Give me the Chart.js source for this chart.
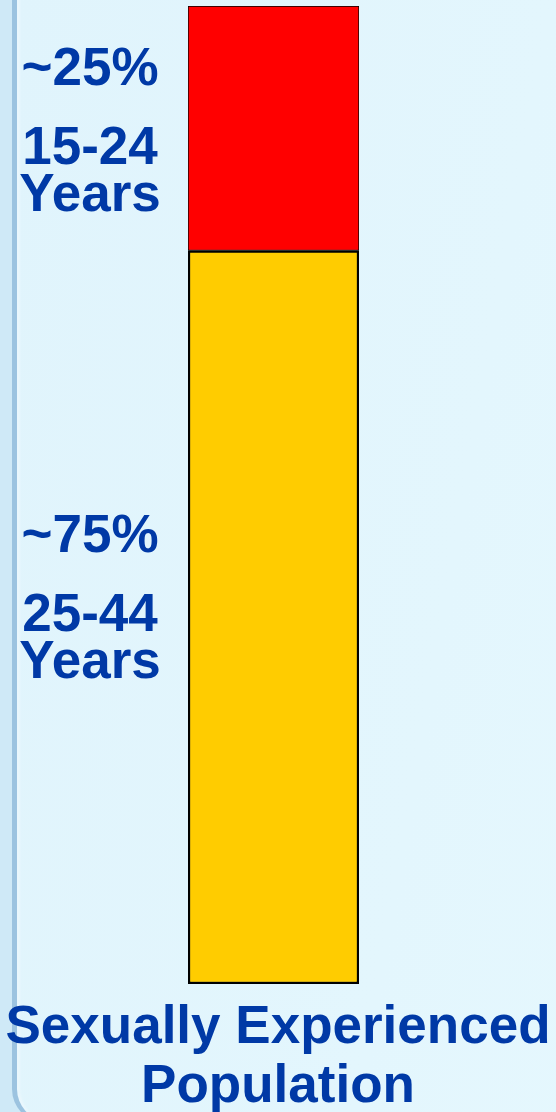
<!DOCTYPE html>
<html>
<head>
<meta charset="utf-8">
<script src="https://cdn.jsdelivr.net/npm/chart.js@4.4.1/dist/chart.umd.min.js"></script>
<style>
  html, body { margin: 0; padding: 0; }
  body {
    width: 556px; height: 1112px; overflow: hidden; position: relative;
    background: #cfe9f7;
  }
  #panel {
    position: absolute; left: 12px; top: -40px; width: 700px; height: 1160px;
    border-left: 5px solid #9cc3e0; border-bottom: 3px solid #b5d5ea;
    border-radius: 0 0 0 34px;
    background: linear-gradient(100deg, #e0f4fc 0%, #e3f6fd 60%, #e6f8fe 100%);
    box-shadow: inset 3px 0 2px #eaf7fd;
  }
  #chart { position: absolute; left: 0; top: 0; }
</style>
</head>
<body>
<div id="panel"></div>
<canvas id="chart" width="556" height="1112"></canvas>
<script>
// data, bottom segment first
const categories = ["Sexually Experienced Population"];
const groupNames = ["25-44 Years", "15-24 Years"];
const shares = [75, 25];
const shareLabels = ["~75%", "~25%"];

const TEXT_BLUE = "#0039a6";
const segColors = ["#ffcc00", "#ff0000"];
const segBorders = [2.5, 1];
const labelShift = [-65, -43]; // pct baseline relative to segment centre

const ctx = document.getElementById("chart").getContext("2d");

const sideLabels = {
  id: "sideLabels",
  afterDatasetsDraw(chart) {
    const c = chart.ctx;
    c.save();
    c.fillStyle = TEXT_BLUE;
    c.font = "bold 53px 'Liberation Sans', Arial, sans-serif";
    c.textAlign = "center";
    c.textBaseline = "alphabetic";
    chart.data.datasets.forEach((ds, i) => {
      const bar = chart.getDatasetMeta(i).data[0];
      const mid = (bar.y + bar.base) / 2;
      const y0 = mid + labelShift[i];
      const parts = groupNames[i].split(" ");
      c.fillText(shareLabels[i], 90, y0);
      c.fillText(parts[0], 90, y0 + 79);
      c.fillText(parts[1], 90, y0 + 126);
    });
    // category title under the bar
    const bottom = chart.chartArea.bottom;
    const words = categories[0].split(" ");
    c.fillText(words.slice(0, 2).join(" "), 278, bottom + 59);
    c.fillText(words.slice(2).join(" "), 278, bottom + 118);
    c.restore();
  }
};

new Chart(ctx, {
  type: "bar",
  data: {
    labels: categories,
    datasets: shares.map((v, i) => ({
      label: groupNames[i],
      data: [v],
      backgroundColor: segColors[i],
      borderColor: "#000000",
      borderWidth: segBorders[i],
      borderSkipped: false,
      barPercentage: 1,
      categoryPercentage: 1
    }))
  },
  options: {
    responsive: false,
    animation: false,
    layout: { padding: { left: 188, right: 197, top: 6, bottom: 128 } },
    plugins: { legend: { display: false }, tooltip: { enabled: false } },
    scales: {
      x: { stacked: true, display: false },
      y: { stacked: true, display: false, min: 0, max: 100 }
    }
  },
  plugins: [sideLabels]
});
</script>
</body>
</html>
